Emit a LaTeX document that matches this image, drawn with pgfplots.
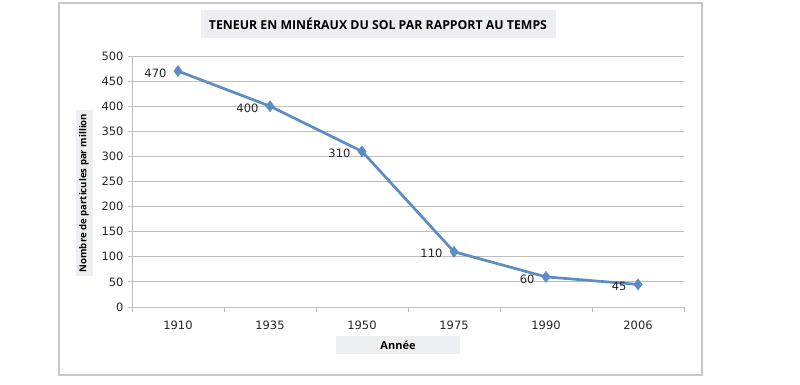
\documentclass[border=0pt]{standalone}
\usepackage{pgfplots}
\pgfplotsset{compat=1.18}
\usepackage{fontspec}
\setmainfont{Open Sans}
\newfontfamily\numfont{DejaVu Sans}
\definecolor{serie}{RGB}{92,140,196}
\definecolor{grille}{RGB}{190,190,190}
\definecolor{boite}{RGB}{236,238,241}
\definecolor{cadre}{RGB}{200,200,200}
\begin{document}
\begin{tikzpicture}[x=1pt,y=1pt]
\path[use as bounding box] (0,0) rectangle (800,384);
\draw[cadre,line width=1.5pt] (59,9) rectangle (702,381);
\node[fill=boite,minimum width=355pt,minimum height=28pt,inner sep=0pt,font=\fontsize{12.3}{14}\selectfont\bfseries] at (378,360) {TENEUR EN MINÉRAUX DU SOL PAR RAPPORT AU TEMPS};
\node[fill=boite,minimum width=166pt,minimum height=17pt,inner sep=0pt,rotate=90,font=\fontsize{9.6}{11}\selectfont\bfseries] at (84,191) {Nombre de particules par million};
\node[fill=boite,minimum width=124pt,minimum height=18pt,inner sep=0pt,font=\fontsize{11}{13}\selectfont\bfseries] at (398,39) {Année};
\begin{axis}[
  at={(132pt,77pt)}, anchor=south west,
  scale only axis, width=552pt, height=251pt,
  xmin=-0.5, xmax=5.5, ymin=0, ymax=500,
  xtick={0,...,5},
  xticklabels={1910,1935,1950,1975,1990,2006},
  minor xtick={-0.5,0.5,...,5.5},
  ytick={0,50,...,500},
  axis lines*=left,
  axis line style={grille,line width=1pt},
  ymajorgrids, grid style={grille,line width=1pt},
  tick align=outside,
  major tick length=4pt, minor tick length=5pt,
  x tick style={draw=none},
  minor x tick style={grille,line width=1pt,draw=grille},
  y tick style={grille,line width=1pt},
  tick label style={font=\numfont\fontsize{11.5}{13}\selectfont, text=black!85},
  /pgf/number format/assume math mode=true,
  xticklabel style={yshift=-6pt},
  yticklabel style={xshift=-1pt},
  clip=false,
]
\addplot[serie, line width=2.7pt, mark=diamond*, mark size=5.5pt,
  mark options={fill=serie,line width=0.5pt},
  nodes near coords, point meta=explicit symbolic,
  every node near coord/.append style={anchor=east, text=black!85, xshift=-8pt, yshift=-2pt, font=\numfont\fontsize{11.5}{13}\selectfont}]
  table[meta=lab] {
x y lab
0 470 470
1 400 400
2 310 310
3 110 110
4 60 60
5 45 45
};
\end{axis}
\end{tikzpicture}
\end{document}
